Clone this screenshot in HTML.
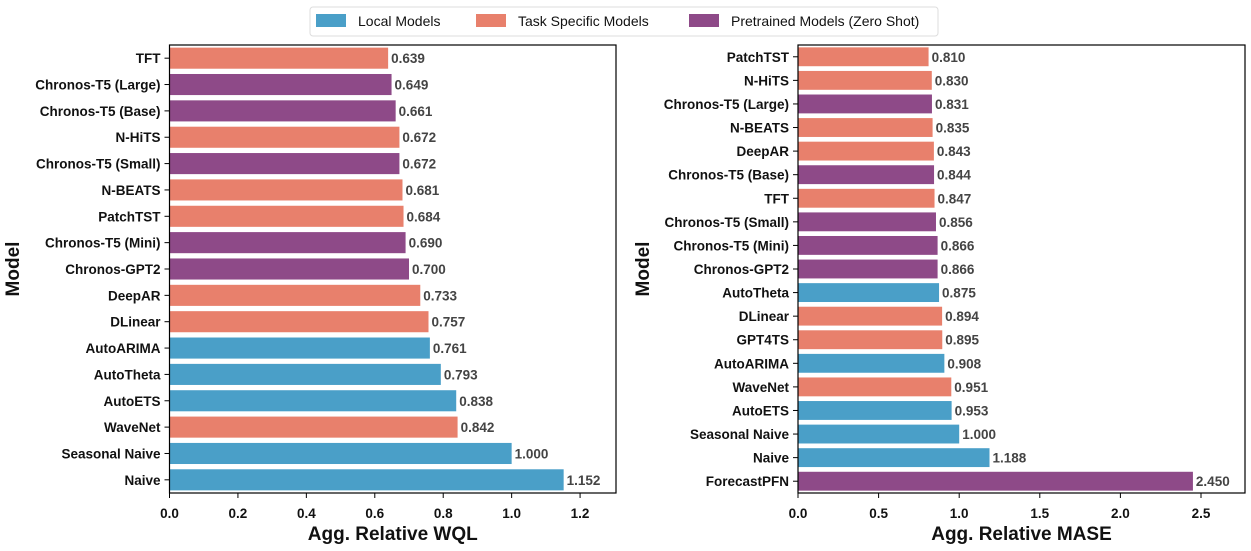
<!DOCTYPE html>
<html><head><meta charset="utf-8"><style>
body{margin:0;background:#fff;}
svg text{font-family:"Liberation Sans",sans-serif;}
</style></head><body>
<svg id="c" width="1251" height="546" xmlns="http://www.w3.org/2000/svg">
<g>
<rect x="310" y="7" width="628" height="29" rx="3" fill="#fff" stroke="#ddd"/>
<rect x="316" y="14" width="30" height="13" fill="#4a9fc8"/>
<text x="358" y="26" font-size="14" fill="#111">Local Models</text>
<rect x="476" y="14" width="30" height="13" fill="#e8806c"/>
<text x="518" y="26" font-size="14" fill="#111">Task Specific Models</text>
<rect x="689" y="14" width="30" height="13" fill="#8e4a88"/>
<text x="731" y="26" font-size="14" fill="#111">Pretrained Models (Zero Shot)</text>
</g>
</svg>
<script>
const wqlModels=["TFT","Chronos-T5 (Large)","Chronos-T5 (Base)","N-HiTS","Chronos-T5 (Small)","N-BEATS","PatchTST","Chronos-T5 (Mini)","Chronos-GPT2","DeepAR","DLinear","AutoARIMA","AutoTheta","AutoETS","WaveNet","Seasonal Naive","Naive"];
const wqlValues=[0.639,0.649,0.661,0.672,0.672,0.681,0.684,0.690,0.700,0.733,0.757,0.761,0.793,0.838,0.842,1.000,1.152];
const wqlGroups=["t","p","p","t","p","t","t","p","p","t","t","l","l","l","t","l","l"];
const wqlTicks=[0,0.2,0.4,0.6,0.8,1.0,1.2];
const maseModels=["PatchTST","N-HiTS","Chronos-T5 (Large)","N-BEATS","DeepAR","Chronos-T5 (Base)","TFT","Chronos-T5 (Small)","Chronos-T5 (Mini)","Chronos-GPT2","AutoTheta","DLinear","GPT4TS","AutoARIMA","WaveNet","AutoETS","Seasonal Naive","Naive","ForecastPFN"];
const maseValues=[0.810,0.830,0.831,0.835,0.843,0.844,0.847,0.856,0.866,0.866,0.875,0.894,0.895,0.908,0.951,0.953,1.000,1.188,2.450];
const maseGroups=["t","t","p","t","t","p","t","p","p","p","l","t","t","l","t","l","l","l","p"];
const maseTicks=[0,0.5,1.0,1.5,2.0,2.5];
const colors={l:"#4a9fc8",t:"#e8806c",p:"#8e4a88"};
const svg=document.getElementById('c');
const NS="http://www.w3.org/2000/svg";
function mk(tag,a,txt){const e=document.createElementNS(NS,tag);for(const k in a)e.setAttribute(k,a[k]);if(txt!==undefined)e.textContent=txt;svg.appendChild(e);return e;}
function panel(px,x0,x1,xmax,models,vals,groups,ticks,title,tickFmt,pre){
  const y0=45,y1=493;
  const sx=v=>x0+v/xmax*(x1-x0);
  const band=(y1-y0)/models.length;
  models.forEach((m,i)=>{
    const cy=y0+band*(i+0.5);
    const r=mk('rect',{x:x0,y:cy-band*0.4,width:sx(vals[i])-x0,height:band*0.8,fill:colors[groups[i]]});
    
    
    const v=mk('text',{x:sx(vals[i])+3,y:cy+5,'font-size':13.5,'font-weight':'bold',fill:'#444'},vals[i].toFixed(3));
    
    
    const tl=mk('line',{x1:x0-5,x2:x0,y1:cy,y2:cy,stroke:'#000','stroke-width':1});
    
    
    const t=mk('text',{x:x0-9,y:cy+5,'font-size':13.5,'font-weight':'bold','text-anchor':'end',fill:'#111'},m);
    
    
  });
  const f=mk('rect',{x:x0,y:y0,width:x1-x0,height:y1-y0,fill:'none',stroke:'#000','stroke-width':1.2});
  
  
  ticks.forEach((tv,i)=>{
    const l=mk('line',{x1:sx(tv),x2:sx(tv),y1:y1,y2:y1+5,stroke:'#000'});
    
    
    const t=mk('text',{x:sx(tv),y:y1+25,'font-size':13.5,'font-weight':'bold','text-anchor':'middle',fill:'#111'},tv.toFixed(1));
    
    
  });
  const xt=mk('text',{x:(x0+x1)/2,y:540,'font-size':19,'font-weight':'bold','text-anchor':'middle',fill:'#111'},title);
  
  
  const yt=mk('text',{x:0,y:0,'font-size':19,'font-weight':'bold','text-anchor':'middle',fill:'#111',transform:`translate(${px},269) rotate(-90)`},'Model');
  
  
}
panel(19,169.5,616,1.305,wqlModels,wqlValues,wqlGroups,wqlTicks,'Agg. Relative WQL',0,'wql');
panel(649,798,1245,2.773,maseModels,maseValues,maseGroups,maseTicks,'Agg. Relative MASE',0,'mase');
</script>
</body></html>
